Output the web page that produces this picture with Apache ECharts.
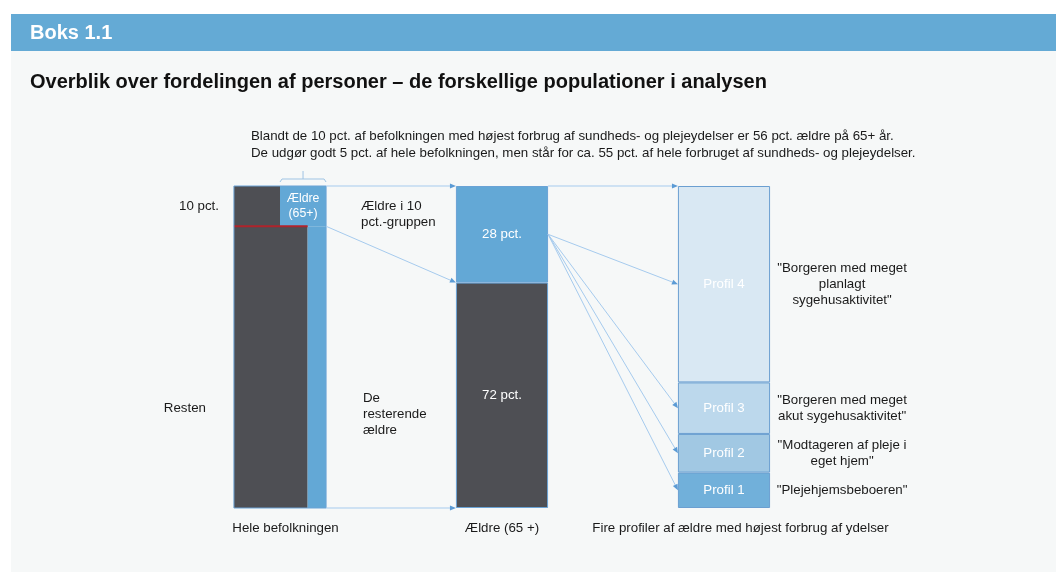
<!DOCTYPE html>
<html>
<head>
<meta charset="utf-8">
<script src="https://cdn.jsdelivr.net/npm/echarts@6/dist/echarts.min.js"></script>
<style>
  html, body { margin: 0; padding: 0; background: #fff; }
  #main { width: 1056px; height: 572px; }
</style>
</head>
<body>
<div id="main"></div>
<script>
// columns of the diagram
var columns = ["Hele befolkningen", "Ældre (65 +)", "Fire profiler af ældre med højest forbrug af ydelser"];

// Hele befolkningen: height of the top group and width share of elderly (as drawn)
var topGroupShare = 12.5;
var elderlyShareTop = 50;
var elderlyShareRest = 20;
var popSideLabel = "10 pct.";

// Ældre (65 +): in the top group / the rest (as drawn)
var elderlyValues = [30, 70];
var elderlyLabels = ["28 pct.", "72 pct."];

// profiles, bottom to top
var profileNames = ["Profil 1", "Profil 2", "Profil 3", "Profil 4"];
var profileValues = [11, 12, 16, 61];
var profileQuotes = [
  "\"Plejehjemsbeboeren\"",
  "\"Modtageren af pleje i\neget hjem\"",
  "\"Borgeren med meget\nakut sygehusaktivitet\"",
  "\"Borgeren med meget\nplanlagt\nsygehusaktivitet\""
];

var FONT = "'Liberation Sans', Arial, Helvetica, sans-serif";
var BAR_RATIO = 0.415;
var DARK = "#4e4f54";
var BLUE = "#63a8d6";
var profileColors = ["#71b0da", "#a1c8e3", "#bcd8ec", "#d9e8f3"];

// middle of each profile segment
var profileMids = [];
var acc = 0;
profileValues.forEach(function (v) {
  profileMids.push(acc + v / 2);
  acc += v;
});

// arrows: [fromColumn, fromValue, toColumn, toValue]
var links = [
  [0, 100, 1, 100],
  [0, 100 - topGroupShare, 1, elderlyValues[1]],
  [0, 0, 1, 0],
  [1, 100, 2, 100]
];
var fromMid = elderlyValues[1] + elderlyValues[0] / 2;
for (var i = profileMids.length - 1; i >= 0; i--) {
  links.push([1, fromMid, 2, profileMids[i]]);
}

function renderPopulation(params, api) {
  var c = api.value(0);
  var top = api.coord([c, 100]);
  var split = api.coord([c, 100 - api.value(1)]);
  var bottom = api.coord([c, 0]);
  var w = api.size([1, 0])[0] * BAR_RATIO;
  var x0 = top[0] - w / 2;
  var wTop = w * api.value(2) / 100;
  var wRest = w * api.value(3) / 100;
  var hTop = split[1] - top[1];
  var bx = x0 + w - wTop;
  return {
    type: "group",
    children: [
      { type: "rect", shape: { x: x0, y: top[1], width: w - wTop, height: hTop }, style: { fill: DARK } },
      { type: "rect", shape: { x: bx, y: top[1], width: wTop, height: hTop }, style: { fill: BLUE } },
      { type: "rect", shape: { x: x0, y: split[1], width: w - wRest, height: bottom[1] - split[1] }, style: { fill: DARK } },
      { type: "rect", shape: { x: x0 + w - wRest, y: split[1], width: wRest, height: bottom[1] - split[1] }, style: { fill: BLUE } },
      { type: "line", shape: { x1: x0, y1: split[1], x2: x0 + w - wRest, y2: split[1] }, style: { stroke: "#b0232b", lineWidth: 2 } },
      { type: "rect", shape: { x: x0, y: top[1], width: w, height: bottom[1] - top[1] }, style: { fill: null, stroke: "#6aa3d6", lineWidth: 1 } },
      {
        type: "polyline",
        shape: { points: [[bx, top[1] - 4], [bx + 2, top[1] - 7], [bx + wTop - 2, top[1] - 7], [bx + wTop, top[1] - 4]] },
        style: { fill: null, stroke: "#9fc4e4", lineWidth: 1 }
      },
      { type: "line", shape: { x1: bx + wTop / 2, y1: top[1] - 7, x2: bx + wTop / 2, y2: top[1] - 15 }, style: { stroke: "#9fc4e4", lineWidth: 1 } },
      {
        type: "text",
        style: { x: bx + wTop / 2, y: top[1] + hTop / 2, text: "Ældre\n(65+)", fill: "#fff", fontSize: 12.3, fontFamily: FONT, lineHeight: 15, align: "center", verticalAlign: "middle" }
      },
      {
        type: "text",
        style: { x: x0 - 15, y: top[1] + hTop / 2, text: popSideLabel, fill: "#1a1a1a", fontSize: 13.3, fontFamily: FONT, align: "right", verticalAlign: "middle" }
      }
    ]
  };
}

function renderLink(params, api) {
  var w = api.size([1, 0])[0] * BAR_RATIO;
  var a = api.coord([api.value(0), api.value(1)]);
  var b = api.coord([api.value(2), api.value(3)]);
  var x1 = a[0] + w / 2, y1 = a[1];
  var x2 = b[0] - w / 2, y2 = b[1];
  var len = Math.sqrt((x2 - x1) * (x2 - x1) + (y2 - y1) * (y2 - y1));
  var ux = (x2 - x1) / len, uy = (y2 - y1) / len;
  var hl = 6, hw = 2.6;
  var bxp = x2 - ux * hl, byp = y2 - uy * hl;
  return {
    type: "group",
    children: [
      { type: "line", shape: { x1: x1, y1: y1, x2: bxp, y2: byp }, style: { stroke: "#a6cbee", lineWidth: 1 } },
      {
        type: "polygon",
        shape: { points: [[x2, y2], [bxp - uy * hw, byp + ux * hw], [bxp + uy * hw, byp - ux * hw]] },
        style: { fill: "#5b9bd5" }
      }
    ]
  };
}

function renderQuote(params, api) {
  var w = api.size([1, 0])[0] * BAR_RATIO;
  var p = api.coord([api.value(0), api.value(1)]);
  return {
    type: "text",
    style: {
      x: p[0] + w / 2 + 72, y: p[1], text: profileQuotes[api.value(2)],
      fill: "#1a1a1a", fontSize: 13.3, fontFamily: FONT, lineHeight: 16,
      align: "center", verticalAlign: "middle"
    }
  };
}

var barBase = {
  type: "bar",
  stack: "col",
  barWidth: BAR_RATIO * 100 + "%",
  itemStyle: { borderColor: "#6aa3d6", borderWidth: 1 },
  label: { show: true, position: "inside", color: "#fff", fontSize: 13.3, fontFamily: FONT }
};

var series = [
  {
    type: "custom",
    name: columns[0],
    renderItem: renderPopulation,
    data: [[0, topGroupShare, elderlyShareTop, elderlyShareRest]],
    z: 3
  },
  Object.assign({}, barBase, {
    name: "Resterende ældre",
    data: ["-", elderlyValues[1], "-"],
    itemStyle: { color: DARK, borderColor: "#6aa3d6", borderWidth: 1 },
    label: Object.assign({}, barBase.label, { formatter: elderlyLabels[1] })
  }),
  Object.assign({}, barBase, {
    name: "Ældre i 10 pct.-gruppen",
    data: ["-", elderlyValues[0], "-"],
    itemStyle: { color: BLUE, borderColor: "#6aa3d6", borderWidth: 1 },
    label: Object.assign({}, barBase.label, { formatter: elderlyLabels[0] })
  })
];

profileNames.forEach(function (name, i) {
  series.push(Object.assign({}, barBase, {
    name: name,
    data: ["-", "-", profileValues[i]],
    itemStyle: { color: profileColors[i], borderColor: "#6b9fd1", borderWidth: 1 },
    label: Object.assign({}, barBase.label, { formatter: name })
  }));
});

series.push({
  type: "custom",
  name: "Citater",
  renderItem: renderQuote,
  data: profileMids.map(function (m, i) { return [2, m, i]; }),
  z: 4
});

series.push({
  type: "custom",
  name: "Pile",
  renderItem: renderLink,
  encode: { x: [0, 2], y: [1, 3] },
  data: links,
  z: 5
});

var myChart = echarts.init(document.getElementById("main"));
var option = {
  animation: false,
  backgroundColor: "#ffffff",
  textStyle: { fontFamily: FONT },
  grid: { left: 169, right: 221, top: 186, bottom: 64 },
  xAxis: {
    type: "category",
    data: [
      { value: columns[0], textStyle: { padding: [0, 0, 0, 11] } },
      columns[1],
      { value: columns[2], textStyle: { padding: [0, 0, 0, 33] } }
    ],
    axisLine: { show: false },
    axisTick: { show: false },
    axisLabel: { interval: 0, margin: 14, color: "#1a1a1a", fontSize: 13.3, fontFamily: FONT }
  },
  yAxis: { type: "value", min: 0, max: 100, show: false },
  graphic: [
    { type: "rect", z: -10, silent: true, shape: { x: 11, y: 14, width: 1045, height: 558 }, style: { fill: "#f6f8f8" } },
    { type: "rect", z: -9, silent: true, shape: { x: 11, y: 14, width: 1045, height: 37 }, style: { fill: "#64aad5" } },
    { type: "text", x: 30, y: 33, style: { text: "Boks 1.1", fill: "#fff", fontSize: 20, fontWeight: "bold", fontFamily: FONT, verticalAlign: "middle" } },
    { type: "text", x: 30, y: 82, style: { text: "Overblik over fordelingen af personer – de forskellige populationer i analysen", fill: "#111", fontSize: 20, fontWeight: "bold", fontFamily: FONT, verticalAlign: "middle" } },
    { type: "text", x: 251, y: 136, style: { text: "Blandt de 10 pct. af befolkningen med højest forbrug af sundheds- og plejeydelser er 56 pct. ældre på 65+ år.", fill: "#1a1a1a", fontSize: 13.3, fontFamily: FONT, verticalAlign: "middle" } },
    { type: "text", x: 251, y: 153, style: { text: "De udgør godt 5 pct. af hele befolkningen, men står for ca. 55 pct. af hele forbruget af sundheds- og plejeydelser.", fill: "#1a1a1a", fontSize: 13.3, fontFamily: FONT, verticalAlign: "middle" } },
    { type: "text", x: 206, y: 408, style: { text: "Resten", fill: "#1a1a1a", fontSize: 13.3, fontFamily: FONT, align: "right", verticalAlign: "middle" } },
    { type: "text", x: 361, y: 214, style: { text: "Ældre i 10\npct.-gruppen", fill: "#1a1a1a", fontSize: 13.3, fontFamily: FONT, lineHeight: 16, verticalAlign: "middle" } },
    { type: "text", x: 363, y: 414, style: { text: "De\nresterende\nældre", fill: "#1a1a1a", fontSize: 13.3, fontFamily: FONT, lineHeight: 16, verticalAlign: "middle" } }
  ],
  series: series
};
myChart.setOption(option);
</script>
</body>
</html>
